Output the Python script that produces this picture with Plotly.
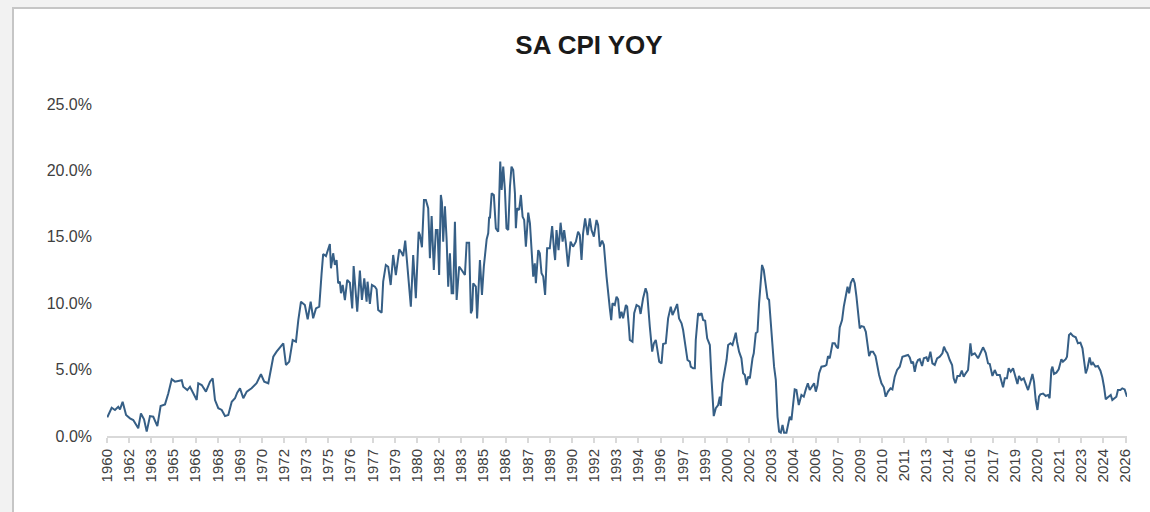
import plotly.graph_objects as go

# Decimal-year dates and CPI YoY (%) values
dates = [
1960.94,1961.22,1961.43,1961.64,1961.75,1961.92,1962.14,1962.39,1962.60,1962.76,
1962.92,1963.09,1963.29,1963.46,1963.67,1963.88,1964.14,1964.35,1964.63,1964.84,
1965.06,1965.27,1965.70,1965.80,1966.06,1966.23,1966.44,1966.66,1966.76,1966.98,
1967.25,1967.51,1967.68,1967.83,1968.04,1968.26,1968.47,1968.68,1968.90,1969.11,
1969.25,1969.43,1969.64,1969.86,1970.17,1970.49,1970.77,1970.98,1971.24,1971.39,
1971.56,1971.77,1971.99,1972.20,1972.37,1972.58,1972.80,1973.01,1973.16,1973.33,
1973.58,1973.76,1973.95,1974.11,1974.29,1974.50,1974.65,1974.75,1974.93,1975.07,
1975.18,1975.25,1975.39,1975.50,1975.61,1975.71,1975.82,1975.89,1976.00,1976.14,
1976.29,1976.46,1976.61,1976.70,1976.80,1976.93,1977.10,1977.23,1977.38,1977.53,
1977.59,1977.74,1977.87,1978.06,1978.17,1978.27,1978.49,1978.59,1978.76,1978.91,
1979.07,1979.23,1979.40,1979.62,1979.77,1979.87,1980.00,1980.13,1980.26,1980.36,
1980.51,1980.68,1980.86,1980.94,1981.07,1981.20,1981.32,1981.47,1981.58,1981.69,
1981.83,1981.96,1982.07,1982.17,1982.28,1982.35,1982.43,1982.54,1982.65,1982.75,
1982.86,1982.97,1983.07,1983.18,1983.29,1983.45,1983.61,1983.82,1983.93,1984.09,
1984.20,1984.28,1984.35,1984.52,1984.60,1984.78,1984.91,1985.03,1985.21,1985.31,
1985.37,1985.42,1985.53,1985.67,1985.80,1985.95,1986.08,1986.17,1986.27,1986.38,
1986.48,1986.59,1986.70,1986.80,1986.91,1987.02,1987.08,1987.16,1987.29,1987.40,
1987.51,1987.61,1987.72,1987.87,1987.98,1988.08,1988.19,1988.29,1988.36,1988.51,
1988.61,1988.72,1988.83,1988.95,1989.08,1989.25,1989.40,1989.53,1989.59,1989.68,
1989.81,1989.94,1990.07,1990.17,1990.28,1990.42,1990.58,1990.74,1990.92,1991.06,
1991.17,1991.28,1991.38,1991.51,1991.67,1991.81,1991.92,1992.07,1992.24,1992.34,
1992.45,1992.60,1992.71,1992.88,1993.01,1993.09,1993.18,1993.26,1993.41,1993.52,
1993.62,1993.73,1993.84,1993.94,1994.12,1994.20,1994.31,1994.37,1994.54,1994.65,
1994.80,1994.97,1995.06,1995.22,1995.38,1995.48,1995.65,1995.80,1995.91,1996.03,
1996.12,1996.25,1996.40,1996.50,1996.67,1996.82,1996.99,1997.10,1997.25,1997.40,
1997.52,1997.68,1997.78,1997.95,1998.06,1998.21,1998.27,1998.42,1998.53,1998.59,
1998.74,1998.85,1998.96,1999.06,1999.19,1999.32,1999.49,1999.60,1999.74,1999.87,
2000.02,2000.13,2000.19,2000.30,2000.45,2000.56,2000.66,2000.81,2000.94,2001.02,
2001.15,2001.23,2001.36,2001.51,2001.62,2001.73,2001.84,2001.94,2002.05,2002.22,
2002.30,2002.43,2002.54,2002.64,2002.75,2002.83,2002.94,2003.07,2003.18,2003.28,
2003.39,2003.50,2003.60,2003.71,2003.82,2003.92,2004.03,2004.14,2004.24,2004.39,
2004.50,2004.60,2004.71,2004.82,2004.92,2005.03,2005.18,2005.35,2005.50,2005.63,
2005.76,2005.88,2006.01,2006.16,2006.27,2006.38,2006.48,2006.63,2006.84,2006.95,
2007.05,2007.16,2007.34,2007.48,2007.59,2007.69,2007.80,2007.95,2008.06,2008.19,
2008.30,2008.40,2008.51,2008.65,2008.76,2008.87,2008.97,2009.08,2009.19,2009.34,
2009.47,2009.57,2009.68,2009.79,2009.93,2010.09,2010.19,2010.32,2010.47,2010.62,
2010.74,2010.89,2011.05,2011.17,2011.32,2011.47,2011.64,2011.81,2011.96,2012.17,
2012.28,2012.39,2012.49,2012.60,2012.71,2012.81,2012.92,2013.07,2013.18,2013.35,
2013.45,2013.60,2013.73,2013.88,2014.03,2014.20,2014.37,2014.47,2014.58,2014.69,
2014.84,2014.99,2015.09,2015.20,2015.33,2015.48,2015.61,2015.73,2015.86,2016.01,
2016.16,2016.25,2016.44,2016.65,2016.80,2016.97,2017.14,2017.29,2017.40,2017.57,
2017.72,2017.86,2018.04,2018.14,2018.25,2018.36,2018.50,2018.61,2018.74,2018.89,
2019.06,2019.17,2019.27,2019.42,2019.57,2019.70,2019.85,2020.00,2020.13,2020.23,
2020.34,2020.45,2020.55,2020.64,2020.81,2020.98,2021.13,2021.23,2021.34,2021.41,
2021.51,2021.66,2021.81,2021.98,2022.08,2022.26,2022.34,2022.47,2022.58,2022.72,
2022.90,2023.04,2023.20,2023.33,2023.43,2023.54,2023.65,2023.79,2023.90,2024.00,
2024.16,2024.32,2024.48,2024.60,2024.71,2024.82,2024.96,2025.14,2025.24,2025.39,
2025.50,2025.60,2025.76,2025.88,2026.03,2026.18,
]

cpi_yoy = [
1.41,2.13,1.96,2.20,2.00,2.58,1.58,1.33,1.20,0.83,
0.58,1.70,1.25,0.33,1.50,1.45,0.75,2.26,2.38,3.20,
4.27,4.09,4.20,3.71,3.46,3.71,3.20,2.71,3.97,3.84,
3.34,4.09,4.34,2.71,2.09,1.96,1.50,1.58,2.58,2.84,
3.26,3.59,2.84,3.34,3.59,3.97,4.65,4.09,3.97,4.80,
5.97,6.35,6.72,6.98,5.35,5.60,7.23,7.10,8.73,10.11,
9.86,8.79,10.11,8.86,9.61,9.74,12.25,13.70,13.55,14.13,
14.46,12.63,13.76,12.88,13.25,11.50,11.62,10.75,11.37,10.24,
11.75,11.54,9.61,12.80,10.99,9.36,12.45,10.24,11.87,10.11,
11.62,9.94,11.37,11.24,11.05,9.49,9.29,11.62,12.88,12.75,
11.37,13.63,12.12,14.06,13.80,13.55,14.71,12.75,11.12,9.74,
13.63,10.37,15.38,15.13,14.21,17.77,17.77,17.15,13.38,16.57,
12.50,15.51,15.51,12.12,18.15,17.60,14.63,17.30,14.76,11.24,
13.76,10.75,10.75,16.14,10.24,12.75,12.50,12.12,14.56,14.56,
9.24,9.49,11.50,11.24,8.86,13.25,10.62,12.75,14.81,15.26,
16.51,16.39,18.27,18.15,15.64,15.38,20.66,18.52,20.28,18.52,
15.64,15.51,18.77,20.28,20.03,18.27,15.64,17.15,17.02,18.15,
16.51,16.27,14.26,16.82,16.02,13.76,12.00,13.00,11.50,14.00,
13.76,12.25,12.00,10.62,14.13,14.13,15.81,13.88,13.25,15.51,
14.00,16.06,14.63,15.51,14.51,12.75,14.63,14.26,14.63,15.38,
15.13,13.25,15.26,16.39,15.13,16.39,15.51,15.01,16.27,15.89,
14.26,14.71,14.38,12.00,10.11,9.61,8.73,9.99,9.86,10.49,
10.29,8.86,9.36,8.86,9.86,9.74,8.23,7.23,7.10,9.24,
9.86,9.74,9.19,10.37,11.12,10.75,8.23,6.35,6.98,7.23,
6.60,5.60,5.47,6.93,6.98,8.86,9.74,9.11,9.49,9.94,
8.86,8.49,7.98,6.72,5.72,5.60,5.22,5.10,5.10,7.23,
9.24,9.11,9.24,8.73,8.68,7.36,6.85,4.22,1.50,2.09,
2.33,2.96,2.26,3.97,4.97,5.72,6.85,6.98,6.85,7.18,
7.78,7.10,6.35,5.85,4.72,4.59,3.84,4.47,4.34,5.85,
6.23,7.73,7.85,9.99,11.50,12.88,12.50,11.24,10.37,10.24,
8.49,6.98,5.22,4.22,1.45,0.33,0.25,0.83,0.25,0.25,
0.96,1.45,1.20,2.20,3.51,3.46,2.33,3.09,2.96,3.51,
3.97,3.46,3.71,3.97,3.34,3.84,4.72,5.22,5.27,5.35,
6.02,5.85,6.98,6.98,6.72,6.60,8.18,8.73,9.74,10.75,
11.24,10.75,11.54,11.87,11.50,10.49,9.49,8.11,8.28,8.23,
7.85,6.85,6.02,6.35,6.35,6.02,5.35,4.59,3.97,3.67,
2.96,3.34,3.59,3.51,4.47,4.97,5.22,5.97,6.02,6.10,
5.92,5.47,5.60,4.84,5.47,5.72,5.78,5.27,5.85,5.92,
5.60,6.35,5.47,5.35,5.85,5.97,6.23,6.72,6.42,6.23,
5.72,5.35,4.34,3.97,4.52,4.52,4.92,4.47,4.72,4.97,
6.98,6.10,6.23,5.85,6.23,6.68,6.27,5.47,5.42,4.52,
4.97,4.59,4.59,4.22,3.67,4.34,4.34,5.10,4.84,5.10,
4.47,3.92,4.52,4.22,4.34,3.97,3.46,4.09,4.67,4.09,
2.71,1.96,2.96,3.14,3.20,3.01,3.09,2.84,4.97,5.22,
4.67,4.77,5.02,5.78,5.60,5.78,5.97,7.61,7.73,7.53,
7.43,6.98,7.03,6.60,5.60,4.72,5.10,5.92,5.35,5.52,
5.22,5.27,4.92,4.42,3.71,2.76,2.91,3.09,2.71,2.84,
2.96,3.46,3.46,3.59,3.51,2.96,
]

# Category-axis tick labels (one every 17 months starting Dec 1960)
tick_labels = ["1960","1962","1963","1965","1966","1968","1969","1970","1972","1973",
               "1975","1976","1977","1979","1980","1982","1983","1985","1986","1987",
               "1989","1990","1992","1993","1994","1996","1997","1999","2000","2002",
               "2003","2004","2006","2007","2009","2010","2011","2013","2014","2016",
               "2017","2019","2020","2021","2023","2024","2026"]
tick_start = 1960.92
tick_step_months = 17

tick_vals = [tick_start + i * tick_step_months / 12 for i in range(len(tick_labels))]

FONT = "Liberation Sans, Arial, sans-serif"

fig = go.Figure()
fig.add_trace(go.Scatter(
    x=dates, y=cpi_yoy, mode="lines",
    line=dict(color="#365F86", width=2),
    hoverinfo="skip", showlegend=False,
))

# plot area: x 107..1127, y 104..436
L, R, T, B = 107, 1127, 104, 436
W, H = R - L, B - T
def px(xp): return (xp - L) / W
def py(yp): return (B - yp) / H

fig.add_shape(type="rect", xref="paper", yref="paper",
              x0=px(13), x1=px(1170), y0=py(530), y1=py(8),
              fillcolor="white", line=dict(color="#c6c6c6", width=2), layer="below")

fig.update_layout(
    width=1150, height=512,
    margin=dict(l=L, r=1150 - R, t=T, b=512 - B, pad=0, autoexpand=False),
    paper_bgcolor="#f2f2f2",
    plot_bgcolor="rgba(0,0,0,0)",
    font=dict(family=FONT, color="#404040", size=15),
    title=dict(text="<b>SA CPI YOY</b>", x=589/1150, xref="container", xanchor="center",
               y=1 - 45/512, yref="container", yanchor="middle",
               font=dict(family=FONT, size=26, color="#1a1a1a")),
    showlegend=False,
)
fig.update_xaxes(
    range=[1960.92, 2026.18], tickmode="array", tickvals=tick_vals, ticktext=tick_labels,
    tickangle=-90, showgrid=False, zeroline=False, automargin=False,
    showline=True, linecolor="#d9d9d9", linewidth=2,
    ticks="outside", ticklen=5, tickwidth=2, tickcolor="#d9d9d9",
    tickfont=dict(family=FONT, size=15, color="#404040"),
)
fig.update_yaxes(
    range=[0, 25], tickmode="linear", tick0=0, dtick=5, automargin=False,
    tickformat=".1f", ticksuffix="%", showgrid=False, zeroline=False, showline=False,
    ticks="", ticklabelstandoff=14,
    tickfont=dict(family=FONT, size=16, color="#404040"),
)

fig.write_html("out.html", config={"displayModeBar": False},
               post_script="document.body.style.margin='0px';document.body.style.background='#f2f2f2';")
